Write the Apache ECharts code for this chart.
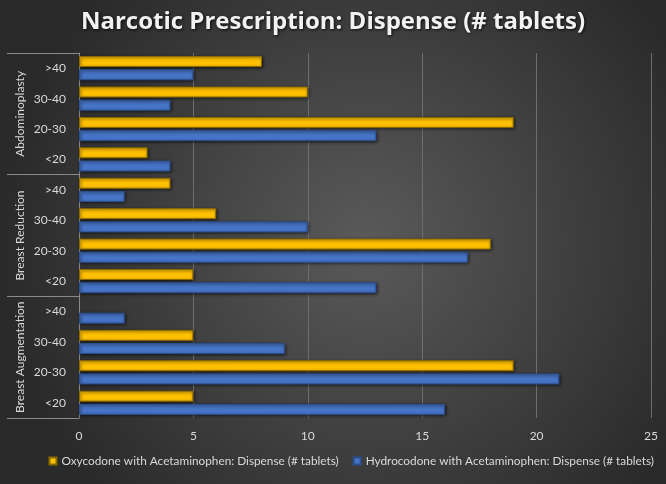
<!DOCTYPE html>
<html>
<head>
<meta charset="utf-8">
<script src="https://cdn.jsdelivr.net/npm/echarts@6/dist/echarts.min.js"></script>
<style>
html,body{margin:0;padding:0;background:#333;}
#chart{width:666px;height:484px;}
</style>
</head>
<body>
<div id="chart"></div>
<script>
// Categories bottom-to-top (ECharts category y-axis starts at bottom)
const groups = ['Breast Augmentation', 'Breast Reduction', 'Abdominoplasty'];
const subCategories = ['<20', '20-30', '30-40', '>40',
                       '<20', '20-30', '30-40', '>40',
                       '<20', '20-30', '30-40', '>40'];
const oxyName = 'Oxycodone with Acetaminophen: Dispense (# tablets)';
const hydroName = 'Hydrocodone with Acetaminophen: Dispense (# tablets)';
const oxyValues   = [5, 19, 5, 0,   5, 18, 6, 4,   3, 19, 10, 8];
const hydroValues = [16, 21, 9, 2,  13, 17, 10, 2,  4, 13, 4, 5];
const xTicks = [0, 5, 10, 15, 20, 25];

const FONT = 'Lato';
const chart = echarts.init(document.getElementById('chart'));
const barShadow = {shadowBlur: 3, shadowColor: 'rgba(0,0,0,0.7)', shadowOffsetX: 1, shadowOffsetY: 1};
const hideZero = arr => arr.map(v => v === 0 ? {value: 0, itemStyle: {borderWidth: 0, opacity: 0}} : v);
chart.setOption({
  backgroundColor: {
    type: 'radial', x: 0.55, y: 0.5, r: 0.75,
    colorStops: [{offset: 0, color: '#5a5a5a'}, {offset: 1, color: '#2a2a2a'}]
  },
  title: {
    text: 'Narcotic Prescription: Dispense (# tablets)',
    left: 'center', top: 5,
    textStyle: {
      color: '#f2f2f2', fontFamily: 'Open Sans', fontWeight: 'bold', fontSize: 24,
      textShadowColor: 'rgba(0,0,0,0.8)', textShadowBlur: 3, textShadowOffsetX: 1, textShadowOffsetY: 1
    }
  },
  legend: {
    data: [oxyName, hydroName],
    bottom: 12, right: 7,
    itemWidth: 7, itemHeight: 7, itemGap: 14,
    icon: 'rect',
    textStyle: {color: '#d9d9d9', fontFamily: FONT, fontSize: 11.8}
  },
  grid: {left: 79, right: 15, top: 53, bottom: 66, containLabel: false},
  xAxis: {
    type: 'value', min: 0, max: 25, interval: 5,
    axisLine: {show: false}, axisTick: {show: false},
    splitLine: {show: true, lineStyle: {color: '#6e6e6e', width: 1}},
    axisLabel: {color: '#d9d9d9', fontFamily: FONT, fontSize: 12, margin: 12,
      formatter: v => xTicks.includes(v) ? String(v) : ''}
  },
  yAxis: [
    {
      type: 'category', data: subCategories, position: 'left',
      axisLine: {show: true, lineStyle: {color: '#8a8a8a', width: 1}},
      axisTick: {show: false},
      axisLabel: {color: '#d9d9d9', fontFamily: FONT, fontSize: 12, margin: 13}
    },
    {
      type: 'category', data: groups, position: 'left', offset: 0,
      axisLine: {show: false},
      axisTick: {show: true, length: 72, interval: 0, lineStyle: {color: '#8a8a8a', width: 1}},
      axisLabel: {color: '#d9d9d9', fontFamily: FONT, fontSize: 12, rotate: 90, margin: 53, interval: 0}
    }
  ],
  series: [
    {
      name: oxyName, type: 'bar', yAxisIndex: 0, data: hideZero(oxyValues),
      barWidth: 11, barGap: '20%',
      itemStyle: Object.assign({color: '#ffc000', borderColor: '#8a6a00', borderWidth: 1}, barShadow)
    },
    {
      name: hydroName, type: 'bar', yAxisIndex: 0, data: hideZero(hydroValues),
      barWidth: 11, barGap: '20%',
      itemStyle: Object.assign({color: '#4674c6', borderColor: '#2c4f8f', borderWidth: 1}, barShadow)
    },
    {
      type: 'bar', yAxisIndex: 1, data: [], silent: true
    }
  ]
});
</script>
</body>
</html>
